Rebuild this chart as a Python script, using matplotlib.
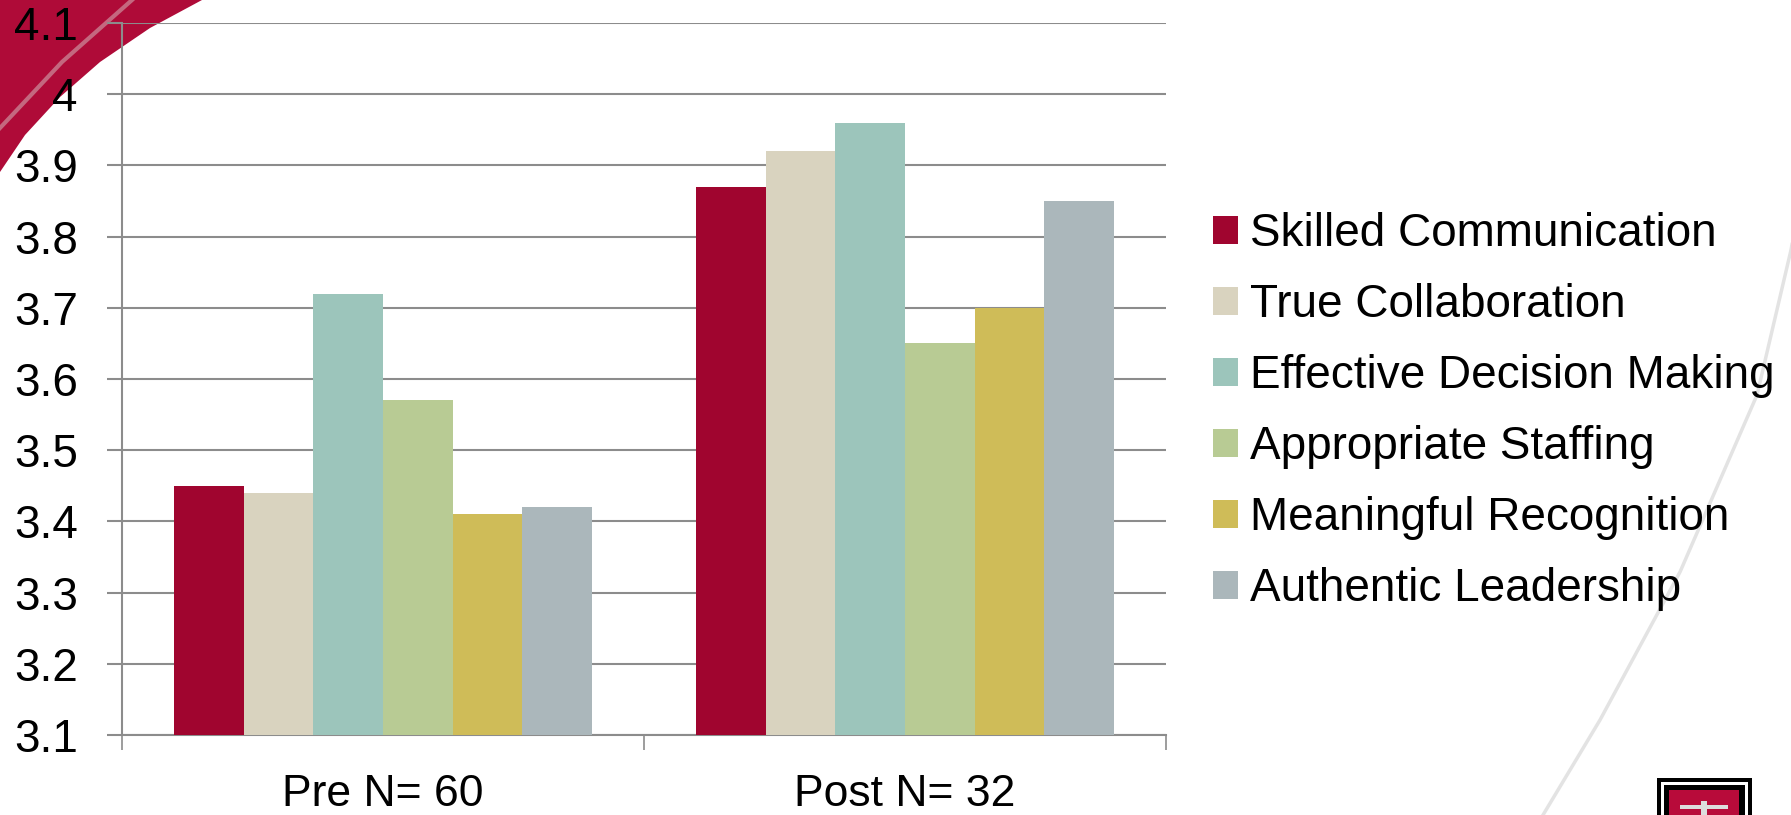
import matplotlib
matplotlib.use("Agg")
import matplotlib.pyplot as plt
import numpy as np
from matplotlib.patches import Polygon, Rectangle
from matplotlib.lines import Line2D

plt.rcParams['font.family'] = ['Liberation Sans', 'DejaVu Sans']

# data
groups = ["Pre N= 60", "Post N= 32"]
series = ["Skilled Communication", "True Collaboration", "Effective Decision Making",
          "Appropriate Staffing", "Meaningful Recognition", "Authentic Leadership"]
pre_vals = [3.45, 3.44, 3.72, 3.57, 3.41, 3.42]
post_vals = [3.87, 3.92, 3.96, 3.65, 3.70, 3.85]
colors = ["#A0052F", "#D9D3BF", "#9CC5BB", "#B8CB94", "#CFBC58", "#ABB7BB"]
yticks = [3.1, 3.2, 3.3, 3.4, 3.5, 3.6, 3.7, 3.8, 3.9, 4.0, 4.1]
ytick_labels = ["3.1", "3.2", "3.3", "3.4", "3.5", "3.6", "3.7", "3.8", "3.9", "4", "4.1"]

W, H = 1791, 815
fig = plt.figure(figsize=(W / 100, H / 100), dpi=100)
fig.patch.set_facecolor("white")


def px(x, y):
    return (x / W, 1 - y / H)


# decorative red swoosh top-left
swoosh = [px(0, 0), px(202, 0), px(150, 28), px(100, 62), px(60, 97), px(25, 135), px(0, 172)]
fig.add_artist(Polygon(swoosh, closed=True, transform=fig.transFigure,
                       facecolor="#AF0B38", edgecolor="none", zorder=0))
fig.add_artist(Line2D([0, 62 / W, 132 / W], [1 - 128 / H, 1 - 62 / H, 1], transform=fig.transFigure,
                      color="#C4687F", lw=3, zorder=0))

# faint arc on the right side
arc_x = np.array([1800, 1791, 1757, 1680, 1600, 1543])
arc_y = np.array([200, 250, 395, 572, 720, 815])
fig.add_artist(Line2D(arc_x / W, 1 - arc_y / H, transform=fig.transFigure,
                      color="#E3E3E3", lw=2.5, zorder=0))

# logo bottom right
fig.add_artist(Rectangle(px(1657, 818), 95 / W, 40 / H, transform=fig.transFigure,
                         facecolor="black", edgecolor="none", zorder=1))
fig.add_artist(Rectangle(px(1661, 818), 87 / W, 36 / H, transform=fig.transFigure,
                         facecolor="white", edgecolor="none", zorder=1))
fig.add_artist(Rectangle(px(1664, 818), 81 / W, 33 / H, transform=fig.transFigure,
                         facecolor="black", edgecolor="none", zorder=1))
fig.add_artist(Rectangle(px(1669, 818), 70 / W, 28 / H, transform=fig.transFigure,
                         facecolor="#B80B3A", edgecolor="none", zorder=1))
fig.add_artist(Rectangle(px(1680, 809), 48 / W, 4 / H, transform=fig.transFigure,
                         facecolor="#DDDDDD", edgecolor="none", zorder=2))
fig.add_artist(Rectangle(px(1701, 818), 6 / W, 17 / H, transform=fig.transFigure,
                         facecolor="#DDDDDD", edgecolor="none", zorder=2))

ax = fig.add_axes([122 / W, 1 - 735 / H, (1166 - 122) / W, (735 - 23) / H])
ax.patch.set_alpha(0)

x = np.arange(len(groups))
width = 0.8 / len(series)
for i, name in enumerate(series):
    vals = [pre_vals[i], post_vals[i]]
    ax.bar(x - 0.4 + width * (i + 0.5), np.array(vals) - 3.1, width, bottom=3.1,
           color=colors[i], label=name, zorder=3)

ax.set_ylim(3.1, 4.1)
ax.set_xlim(-0.5, 1.5)
ax.set_yticks(yticks)
ax.set_yticklabels(ytick_labels, fontsize=33)
ax.yaxis.grid(True, color="#8C8C8C", lw=1.5, zorder=0)
ax.tick_params(axis="y", length=10.8, width=1.5, color="#8C8C8C", pad=21)

ax.set_xticks([-0.5, 0.5, 1.5])
ax.set_xticklabels([])
ax.tick_params(axis="x", length=10.8, width=1.2, color="#8C8C8C")
ax.set_xticks(x, minor=True)
ax.set_xticklabels(groups, minor=True, fontsize=32)
ax.tick_params(axis="x", which="minor", length=0, pad=28)

for side in ["top", "right"]:
    ax.spines[side].set_visible(False)
ax.spines["left"].set_color("#8C8C8C")
ax.spines["left"].set_linewidth(1.5)
ax.spines["bottom"].set_color("#8C8C8C")
ax.spines["bottom"].set_linewidth(1.5)

leg = ax.legend(loc="upper left", bbox_to_anchor=px(1213, 212), bbox_transform=fig.transFigure,
                frameon=False, fontsize=33, handlelength=0.55, handleheight=0.55,
                handletextpad=0.26, labelspacing=0.59, borderaxespad=0, borderpad=0)

fig.savefig("out.png", dpi=100, facecolor="white")
